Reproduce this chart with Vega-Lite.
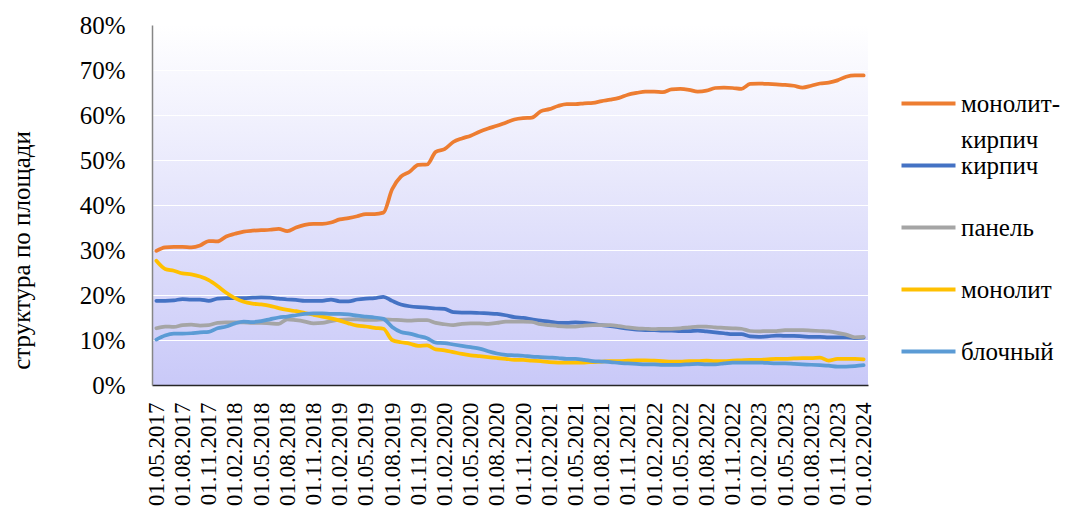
{
"$schema":"https://vega.github.io/schema/vega-lite/v6.json",
"width":716,"height":360,
"autosize":{"type":"none"},
"padding":{"left":152,"top":25,"right":205,"bottom":135},
"background":"white",
"config":{
 "font":"Tinos, Liberation Serif, DejaVu Serif, Noto Serif, serif",
 "view":{"stroke":null,"fill":{"gradient":"linear","x1":0,"y1":0,"x2":0,"y2":1,"stops":[{"offset":0,"color":"#ffffff"},{"offset":1,"color":"#c9c9f8"}]}}
},
"data":{"values":[
{"d":"01.05.2017","s":"монолит-кирпич","v":29.8},{"d":"01.06.2017","s":"монолит-кирпич","v":30.6},{"d":"01.07.2017","s":"монолит-кирпич","v":30.7},{"d":"01.08.2017","s":"монолит-кирпич","v":30.7},{"d":"01.09.2017","s":"монолит-кирпич","v":30.6},{"d":"01.10.2017","s":"монолит-кирпич","v":31.0},{"d":"01.11.2017","s":"монолит-кирпич","v":32.0},{"d":"01.12.2017","s":"монолит-кирпич","v":31.9},
{"d":"01.01.2018","s":"монолит-кирпич","v":33.0},{"d":"01.02.2018","s":"монолит-кирпич","v":33.6},{"d":"01.03.2018","s":"монолит-кирпич","v":34.1},{"d":"01.04.2018","s":"монолит-кирпич","v":34.3},{"d":"01.05.2018","s":"монолит-кирпич","v":34.4},{"d":"01.06.2018","s":"монолит-кирпич","v":34.5},{"d":"01.07.2018","s":"монолит-кирпич","v":34.7},{"d":"01.08.2018","s":"монолит-кирпич","v":34.2},{"d":"01.09.2018","s":"монолит-кирпич","v":35.0},{"d":"01.10.2018","s":"монолит-кирпич","v":35.6},{"d":"01.11.2018","s":"монолит-кирпич","v":35.8},{"d":"01.12.2018","s":"монолит-кирпич","v":35.8},
{"d":"01.01.2019","s":"монолит-кирпич","v":36.1},{"d":"01.02.2019","s":"монолит-кирпич","v":36.8},{"d":"01.03.2019","s":"монолит-кирпич","v":37.1},{"d":"01.04.2019","s":"монолит-кирпич","v":37.5},{"d":"01.05.2019","s":"монолит-кирпич","v":38.0},{"d":"01.06.2019","s":"монолит-кирпич","v":38.0},{"d":"01.07.2019","s":"монолит-кирпич","v":38.3},{"d":"01.08.2019","s":"монолит-кирпич","v":43.5},{"d":"01.09.2019","s":"монолит-кирпич","v":46.3},{"d":"01.10.2019","s":"монолит-кирпич","v":47.4},{"d":"01.11.2019","s":"монолит-кирпич","v":48.9},{"d":"01.12.2019","s":"монолит-кирпич","v":49.0},
{"d":"01.01.2020","s":"монолит-кирпич","v":51.8},{"d":"01.02.2020","s":"монолит-кирпич","v":52.4},{"d":"01.03.2020","s":"монолит-кирпич","v":54.0},{"d":"01.04.2020","s":"монолит-кирпич","v":54.8},{"d":"01.05.2020","s":"монолит-кирпич","v":55.4},{"d":"01.06.2020","s":"монолит-кирпич","v":56.3},{"d":"01.07.2020","s":"монолит-кирпич","v":57.0},{"d":"01.08.2020","s":"монолит-кирпич","v":57.6},{"d":"01.09.2020","s":"монолит-кирпич","v":58.3},{"d":"01.10.2020","s":"монолит-кирпич","v":59.0},{"d":"01.11.2020","s":"монолит-кирпич","v":59.3},{"d":"01.12.2020","s":"монолит-кирпич","v":59.4},
{"d":"01.01.2021","s":"монолит-кирпич","v":60.8},{"d":"01.02.2021","s":"монолит-кирпич","v":61.3},{"d":"01.03.2021","s":"монолит-кирпич","v":62.0},{"d":"01.04.2021","s":"монолит-кирпич","v":62.4},{"d":"01.05.2021","s":"монолит-кирпич","v":62.4},{"d":"01.06.2021","s":"монолит-кирпич","v":62.6},{"d":"01.07.2021","s":"монолит-кирпич","v":62.7},{"d":"01.08.2021","s":"монолит-кирпич","v":63.1},{"d":"01.09.2021","s":"монолит-кирпич","v":63.4},{"d":"01.10.2021","s":"монолит-кирпич","v":63.8},{"d":"01.11.2021","s":"монолит-кирпич","v":64.5},{"d":"01.12.2021","s":"монолит-кирпич","v":64.9},
{"d":"01.01.2022","s":"монолит-кирпич","v":65.2},{"d":"01.02.2022","s":"монолит-кирпич","v":65.2},{"d":"01.03.2022","s":"монолит-кирпич","v":65.1},{"d":"01.04.2022","s":"монолит-кирпич","v":65.7},{"d":"01.05.2022","s":"монолит-кирпич","v":65.8},{"d":"01.06.2022","s":"монолит-кирпич","v":65.6},{"d":"01.07.2022","s":"монолит-кирпич","v":65.2},{"d":"01.08.2022","s":"монолит-кирпич","v":65.4},{"d":"01.09.2022","s":"монолит-кирпич","v":66.0},{"d":"01.10.2022","s":"монолит-кирпич","v":66.1},{"d":"01.11.2022","s":"монолит-кирпич","v":66.0},{"d":"01.12.2022","s":"монолит-кирпич","v":65.8},
{"d":"01.01.2023","s":"монолит-кирпич","v":66.9},{"d":"01.02.2023","s":"монолит-кирпич","v":67.0},{"d":"01.03.2023","s":"монолит-кирпич","v":66.9},{"d":"01.04.2023","s":"монолит-кирпич","v":66.8},{"d":"01.05.2023","s":"монолит-кирпич","v":66.7},{"d":"01.06.2023","s":"монолит-кирпич","v":66.5},{"d":"01.07.2023","s":"монолит-кирпич","v":66.1},{"d":"01.08.2023","s":"монолит-кирпич","v":66.5},{"d":"01.09.2023","s":"монолит-кирпич","v":67.0},{"d":"01.10.2023","s":"монолит-кирпич","v":67.2},{"d":"01.11.2023","s":"монолит-кирпич","v":67.7},{"d":"01.12.2023","s":"монолит-кирпич","v":68.5},
{"d":"01.01.2024","s":"монолит-кирпич","v":68.8},{"d":"01.02.2024","s":"монолит-кирпич","v":68.8},

{"d":"01.05.2017","s":"кирпич","v":18.7},{"d":"01.06.2017","s":"кирпич","v":18.7},{"d":"01.07.2017","s":"кирпич","v":18.8},{"d":"01.08.2017","s":"кирпич","v":19.1},{"d":"01.09.2017","s":"кирпич","v":19.0},{"d":"01.10.2017","s":"кирпич","v":19.0},{"d":"01.11.2017","s":"кирпич","v":18.7},{"d":"01.12.2017","s":"кирпич","v":19.2},
{"d":"01.01.2018","s":"кирпич","v":19.3},{"d":"01.02.2018","s":"кирпич","v":19.3},{"d":"01.03.2018","s":"кирпич","v":19.3},{"d":"01.04.2018","s":"кирпич","v":19.4},{"d":"01.05.2018","s":"кирпич","v":19.5},{"d":"01.06.2018","s":"кирпич","v":19.4},{"d":"01.07.2018","s":"кирпич","v":19.2},{"d":"01.08.2018","s":"кирпич","v":19.0},{"d":"01.09.2018","s":"кирпич","v":18.9},{"d":"01.10.2018","s":"кирпич","v":18.7},{"d":"01.11.2018","s":"кирпич","v":18.7},{"d":"01.12.2018","s":"кирпич","v":18.7},
{"d":"01.01.2019","s":"кирпич","v":19.0},{"d":"01.02.2019","s":"кирпич","v":18.6},{"d":"01.03.2019","s":"кирпич","v":18.6},{"d":"01.04.2019","s":"кирпич","v":19.0},{"d":"01.05.2019","s":"кирпич","v":19.2},{"d":"01.06.2019","s":"кирпич","v":19.3},{"d":"01.07.2019","s":"кирпич","v":19.6},{"d":"01.08.2019","s":"кирпич","v":18.7},{"d":"01.09.2019","s":"кирпич","v":17.9},{"d":"01.10.2019","s":"кирпич","v":17.5},{"d":"01.11.2019","s":"кирпич","v":17.3},{"d":"01.12.2019","s":"кирпич","v":17.2},
{"d":"01.01.2020","s":"кирпич","v":17.0},{"d":"01.02.2020","s":"кирпич","v":16.9},{"d":"01.03.2020","s":"кирпич","v":16.2},{"d":"01.04.2020","s":"кирпич","v":16.1},{"d":"01.05.2020","s":"кирпич","v":16.1},{"d":"01.06.2020","s":"кирпич","v":16.0},{"d":"01.07.2020","s":"кирпич","v":15.9},{"d":"01.08.2020","s":"кирпич","v":15.8},{"d":"01.09.2020","s":"кирпич","v":15.5},{"d":"01.10.2020","s":"кирпич","v":15.1},{"d":"01.11.2020","s":"кирпич","v":14.9},{"d":"01.12.2020","s":"кирпич","v":14.6},
{"d":"01.01.2021","s":"кирпич","v":14.3},{"d":"01.02.2021","s":"кирпич","v":14.1},{"d":"01.03.2021","s":"кирпич","v":13.8},{"d":"01.04.2021","s":"кирпич","v":13.8},{"d":"01.05.2021","s":"кирпич","v":13.9},{"d":"01.06.2021","s":"кирпич","v":13.8},{"d":"01.07.2021","s":"кирпич","v":13.6},{"d":"01.08.2021","s":"кирпич","v":13.3},{"d":"01.09.2021","s":"кирпич","v":13.1},{"d":"01.10.2021","s":"кирпич","v":12.8},{"d":"01.11.2021","s":"кирпич","v":12.5},{"d":"01.12.2021","s":"кирпич","v":12.3},
{"d":"01.01.2022","s":"кирпич","v":12.2},{"d":"01.02.2022","s":"кирпич","v":12.2},{"d":"01.03.2022","s":"кирпич","v":12.1},{"d":"01.04.2022","s":"кирпич","v":12.1},{"d":"01.05.2022","s":"кирпич","v":12.0},{"d":"01.06.2022","s":"кирпич","v":12.0},{"d":"01.07.2022","s":"кирпич","v":12.1},{"d":"01.08.2022","s":"кирпич","v":11.9},{"d":"01.09.2022","s":"кирпич","v":11.7},{"d":"01.10.2022","s":"кирпич","v":11.5},{"d":"01.11.2022","s":"кирпич","v":11.3},{"d":"01.12.2022","s":"кирпич","v":11.3},
{"d":"01.01.2023","s":"кирпич","v":10.8},{"d":"01.02.2023","s":"кирпич","v":10.7},{"d":"01.03.2023","s":"кирпич","v":10.8},{"d":"01.04.2023","s":"кирпич","v":11.0},{"d":"01.05.2023","s":"кирпич","v":10.9},{"d":"01.06.2023","s":"кирпич","v":10.9},{"d":"01.07.2023","s":"кирпич","v":10.8},{"d":"01.08.2023","s":"кирпич","v":10.7},{"d":"01.09.2023","s":"кирпич","v":10.7},{"d":"01.10.2023","s":"кирпич","v":10.6},{"d":"01.11.2023","s":"кирпич","v":10.6},{"d":"01.12.2023","s":"кирпич","v":10.6},
{"d":"01.01.2024","s":"кирпич","v":10.4},{"d":"01.02.2024","s":"кирпич","v":10.5},

{"d":"01.05.2017","s":"панель","v":12.6},{"d":"01.06.2017","s":"панель","v":13.0},{"d":"01.07.2017","s":"панель","v":12.9},{"d":"01.08.2017","s":"панель","v":13.3},{"d":"01.09.2017","s":"панель","v":13.4},{"d":"01.10.2017","s":"панель","v":13.2},{"d":"01.11.2017","s":"панель","v":13.3},{"d":"01.12.2017","s":"панель","v":13.8},
{"d":"01.01.2018","s":"панель","v":13.9},{"d":"01.02.2018","s":"панель","v":13.9},{"d":"01.03.2018","s":"панель","v":13.9},{"d":"01.04.2018","s":"панель","v":13.8},{"d":"01.05.2018","s":"панель","v":13.8},{"d":"01.06.2018","s":"панель","v":13.7},{"d":"01.07.2018","s":"панель","v":13.6},{"d":"01.08.2018","s":"панель","v":14.6},{"d":"01.09.2018","s":"панель","v":14.4},{"d":"01.10.2018","s":"панель","v":14.1},{"d":"01.11.2018","s":"панель","v":13.7},{"d":"01.12.2018","s":"панель","v":13.8},
{"d":"01.01.2019","s":"панель","v":14.2},{"d":"01.02.2019","s":"панель","v":14.5},{"d":"01.03.2019","s":"панель","v":14.6},{"d":"01.04.2019","s":"панель","v":14.6},{"d":"01.05.2019","s":"панель","v":14.5},{"d":"01.06.2019","s":"панель","v":14.5},{"d":"01.07.2019","s":"панель","v":14.6},{"d":"01.08.2019","s":"панель","v":14.5},{"d":"01.09.2019","s":"панель","v":14.4},{"d":"01.10.2019","s":"панель","v":14.3},{"d":"01.11.2019","s":"панель","v":14.4},{"d":"01.12.2019","s":"панель","v":14.4},
{"d":"01.01.2020","s":"панель","v":13.8},{"d":"01.02.2020","s":"панель","v":13.5},{"d":"01.03.2020","s":"панель","v":13.3},{"d":"01.04.2020","s":"панель","v":13.6},{"d":"01.05.2020","s":"панель","v":13.7},{"d":"01.06.2020","s":"панель","v":13.7},{"d":"01.07.2020","s":"панель","v":13.6},{"d":"01.08.2020","s":"панель","v":13.8},{"d":"01.09.2020","s":"панель","v":14.1},{"d":"01.10.2020","s":"панель","v":14.1},{"d":"01.11.2020","s":"панель","v":14.1},{"d":"01.12.2020","s":"панель","v":14.0},
{"d":"01.01.2021","s":"панель","v":13.5},{"d":"01.02.2021","s":"панель","v":13.3},{"d":"01.03.2021","s":"панель","v":13.1},{"d":"01.04.2021","s":"панель","v":13.0},{"d":"01.05.2021","s":"панель","v":13.0},{"d":"01.06.2021","s":"панель","v":13.2},{"d":"01.07.2021","s":"панель","v":13.3},{"d":"01.08.2021","s":"панель","v":13.3},{"d":"01.09.2021","s":"панель","v":13.3},{"d":"01.10.2021","s":"панель","v":13.1},{"d":"01.11.2021","s":"панель","v":12.8},{"d":"01.12.2021","s":"панель","v":12.6},
{"d":"01.01.2022","s":"панель","v":12.5},{"d":"01.02.2022","s":"панель","v":12.4},{"d":"01.03.2022","s":"панель","v":12.5},{"d":"01.04.2022","s":"панель","v":12.5},{"d":"01.05.2022","s":"панель","v":12.6},{"d":"01.06.2022","s":"панель","v":12.8},{"d":"01.07.2022","s":"панель","v":13.0},{"d":"01.08.2022","s":"панель","v":13.0},{"d":"01.09.2022","s":"панель","v":12.8},{"d":"01.10.2022","s":"панель","v":12.7},{"d":"01.11.2022","s":"панель","v":12.6},{"d":"01.12.2022","s":"панель","v":12.5},
{"d":"01.01.2023","s":"панель","v":12.0},{"d":"01.02.2023","s":"панель","v":11.9},{"d":"01.03.2023","s":"панель","v":12.0},{"d":"01.04.2023","s":"панель","v":12.0},{"d":"01.05.2023","s":"панель","v":12.2},{"d":"01.06.2023","s":"панель","v":12.2},{"d":"01.07.2023","s":"панель","v":12.2},{"d":"01.08.2023","s":"панель","v":12.1},{"d":"01.09.2023","s":"панель","v":12.0},{"d":"01.10.2023","s":"панель","v":11.9},{"d":"01.11.2023","s":"панель","v":11.6},{"d":"01.12.2023","s":"панель","v":11.2},
{"d":"01.01.2024","s":"панель","v":10.6},{"d":"01.02.2024","s":"панель","v":10.7},

{"d":"01.05.2017","s":"монолит","v":27.6},{"d":"01.06.2017","s":"монолит","v":25.8},{"d":"01.07.2017","s":"монолит","v":25.4},{"d":"01.08.2017","s":"монолит","v":24.8},{"d":"01.09.2017","s":"монолит","v":24.6},{"d":"01.10.2017","s":"монолит","v":24.1},{"d":"01.11.2017","s":"монолит","v":23.3},{"d":"01.12.2017","s":"монолит","v":22.0},
{"d":"01.01.2018","s":"монолит","v":20.5},{"d":"01.02.2018","s":"монолит","v":19.3},{"d":"01.03.2018","s":"монолит","v":18.5},{"d":"01.04.2018","s":"монолит","v":18.1},{"d":"01.05.2018","s":"монолит","v":17.9},{"d":"01.06.2018","s":"монолит","v":17.6},{"d":"01.07.2018","s":"монолит","v":17.1},{"d":"01.08.2018","s":"монолит","v":16.7},{"d":"01.09.2018","s":"монолит","v":16.4},{"d":"01.10.2018","s":"монолит","v":16.0},{"d":"01.11.2018","s":"монолит","v":15.6},{"d":"01.12.2018","s":"монолит","v":15.2},
{"d":"01.01.2019","s":"монолит","v":14.8},{"d":"01.02.2019","s":"монолит","v":14.3},{"d":"01.03.2019","s":"монолит","v":13.7},{"d":"01.04.2019","s":"монолит","v":13.2},{"d":"01.05.2019","s":"монолит","v":13.0},{"d":"01.06.2019","s":"монолит","v":12.7},{"d":"01.07.2019","s":"монолит","v":12.5},{"d":"01.08.2019","s":"монолит","v":10.0},{"d":"01.09.2019","s":"монолит","v":9.5},{"d":"01.10.2019","s":"монолит","v":9.2},{"d":"01.11.2019","s":"монолит","v":8.7},{"d":"01.12.2019","s":"монолит","v":8.8},
{"d":"01.01.2020","s":"монолит","v":7.9},{"d":"01.02.2020","s":"монолит","v":7.7},{"d":"01.03.2020","s":"монолит","v":7.3},{"d":"01.04.2020","s":"монолит","v":6.9},{"d":"01.05.2020","s":"монолит","v":6.6},{"d":"01.06.2020","s":"монолит","v":6.4},{"d":"01.07.2020","s":"монолит","v":6.2},{"d":"01.08.2020","s":"монолит","v":6.0},{"d":"01.09.2020","s":"монолит","v":5.8},{"d":"01.10.2020","s":"монолит","v":5.6},{"d":"01.11.2020","s":"монолит","v":5.6},{"d":"01.12.2020","s":"монолит","v":5.4},
{"d":"01.01.2021","s":"монолит","v":5.3},{"d":"01.02.2021","s":"монолит","v":5.1},{"d":"01.03.2021","s":"монолит","v":5.0},{"d":"01.04.2021","s":"монолит","v":5.0},{"d":"01.05.2021","s":"монолит","v":5.0},{"d":"01.06.2021","s":"монолит","v":5.0},{"d":"01.07.2021","s":"монолит","v":5.1},{"d":"01.08.2021","s":"монолит","v":5.2},{"d":"01.09.2021","s":"монолит","v":5.3},{"d":"01.10.2021","s":"монолит","v":5.3},{"d":"01.11.2021","s":"монолит","v":5.4},{"d":"01.12.2021","s":"монолит","v":5.5},
{"d":"01.01.2022","s":"монолит","v":5.5},{"d":"01.02.2022","s":"монолит","v":5.4},{"d":"01.03.2022","s":"монолит","v":5.3},{"d":"01.04.2022","s":"монолит","v":5.2},{"d":"01.05.2022","s":"монолит","v":5.2},{"d":"01.06.2022","s":"монолит","v":5.3},{"d":"01.07.2022","s":"монолит","v":5.3},{"d":"01.08.2022","s":"монолит","v":5.4},{"d":"01.09.2022","s":"монолит","v":5.3},{"d":"01.10.2022","s":"монолит","v":5.3},{"d":"01.11.2022","s":"монолит","v":5.4},{"d":"01.12.2022","s":"монолит","v":5.5},
{"d":"01.01.2023","s":"монолит","v":5.6},{"d":"01.02.2023","s":"монолит","v":5.6},{"d":"01.03.2023","s":"монолит","v":5.7},{"d":"01.04.2023","s":"монолит","v":5.8},{"d":"01.05.2023","s":"монолит","v":5.8},{"d":"01.06.2023","s":"монолит","v":5.9},{"d":"01.07.2023","s":"монолит","v":6.0},{"d":"01.08.2023","s":"монолит","v":6.0},{"d":"01.09.2023","s":"монолит","v":6.1},{"d":"01.10.2023","s":"монолит","v":5.4},{"d":"01.11.2023","s":"монолит","v":5.8},{"d":"01.12.2023","s":"монолит","v":5.8},
{"d":"01.01.2024","s":"монолит","v":5.8},{"d":"01.02.2024","s":"монолит","v":5.7},

{"d":"01.05.2017","s":"блочный","v":10.1},{"d":"01.06.2017","s":"блочный","v":11.0},{"d":"01.07.2017","s":"блочный","v":11.4},{"d":"01.08.2017","s":"блочный","v":11.4},{"d":"01.09.2017","s":"блочный","v":11.5},{"d":"01.10.2017","s":"блочный","v":11.7},{"d":"01.11.2017","s":"блочный","v":11.8},{"d":"01.12.2017","s":"блочный","v":12.6},
{"d":"01.01.2018","s":"блочный","v":13.0},{"d":"01.02.2018","s":"блочный","v":13.7},{"d":"01.03.2018","s":"блочный","v":14.1},{"d":"01.04.2018","s":"блочный","v":14.0},{"d":"01.05.2018","s":"блочный","v":14.2},{"d":"01.06.2018","s":"блочный","v":14.6},{"d":"01.07.2018","s":"блочный","v":15.0},{"d":"01.08.2018","s":"блочный","v":15.2},{"d":"01.09.2018","s":"блочный","v":15.5},{"d":"01.10.2018","s":"блочный","v":15.8},{"d":"01.11.2018","s":"блочный","v":15.9},{"d":"01.12.2018","s":"блочный","v":15.9},
{"d":"01.01.2019","s":"блочный","v":15.8},{"d":"01.02.2019","s":"блочный","v":15.8},{"d":"01.03.2019","s":"блочный","v":15.7},{"d":"01.04.2019","s":"блочный","v":15.4},{"d":"01.05.2019","s":"блочный","v":15.2},{"d":"01.06.2019","s":"блочный","v":15.0},{"d":"01.07.2019","s":"блочный","v":14.7},{"d":"01.08.2019","s":"блочный","v":12.9},{"d":"01.09.2019","s":"блочный","v":11.8},{"d":"01.10.2019","s":"блочный","v":11.4},{"d":"01.11.2019","s":"блочный","v":10.9},{"d":"01.12.2019","s":"блочный","v":10.4},
{"d":"01.01.2020","s":"блочный","v":9.4},{"d":"01.02.2020","s":"блочный","v":9.3},{"d":"01.03.2020","s":"блочный","v":9.0},{"d":"01.04.2020","s":"блочный","v":8.7},{"d":"01.05.2020","s":"блочный","v":8.4},{"d":"01.06.2020","s":"блочный","v":8.1},{"d":"01.07.2020","s":"блочный","v":7.5},{"d":"01.08.2020","s":"блочный","v":7.0},{"d":"01.09.2020","s":"блочный","v":6.7},{"d":"01.10.2020","s":"блочный","v":6.6},{"d":"01.11.2020","s":"блочный","v":6.5},{"d":"01.12.2020","s":"блочный","v":6.3},
{"d":"01.01.2021","s":"блочный","v":6.2},{"d":"01.02.2021","s":"блочный","v":6.1},{"d":"01.03.2021","s":"блочный","v":6.0},{"d":"01.04.2021","s":"блочный","v":5.8},{"d":"01.05.2021","s":"блочный","v":5.8},{"d":"01.06.2021","s":"блочный","v":5.6},{"d":"01.07.2021","s":"блочный","v":5.3},{"d":"01.08.2021","s":"блочный","v":5.2},{"d":"01.09.2021","s":"блочный","v":5.1},{"d":"01.10.2021","s":"блочный","v":4.9},{"d":"01.11.2021","s":"блочный","v":4.8},{"d":"01.12.2021","s":"блочный","v":4.7},
{"d":"01.01.2022","s":"блочный","v":4.6},{"d":"01.02.2022","s":"блочный","v":4.6},{"d":"01.03.2022","s":"блочный","v":4.5},{"d":"01.04.2022","s":"блочный","v":4.5},{"d":"01.05.2022","s":"блочный","v":4.5},{"d":"01.06.2022","s":"блочный","v":4.6},{"d":"01.07.2022","s":"блочный","v":4.7},{"d":"01.08.2022","s":"блочный","v":4.6},{"d":"01.09.2022","s":"блочный","v":4.6},{"d":"01.10.2022","s":"блочный","v":4.8},{"d":"01.11.2022","s":"блочный","v":5.0},{"d":"01.12.2022","s":"блочный","v":5.0},
{"d":"01.01.2023","s":"блочный","v":5.0},{"d":"01.02.2023","s":"блочный","v":5.0},{"d":"01.03.2023","s":"блочный","v":4.9},{"d":"01.04.2023","s":"блочный","v":4.8},{"d":"01.05.2023","s":"блочный","v":4.8},{"d":"01.06.2023","s":"блочный","v":4.7},{"d":"01.07.2023","s":"блочный","v":4.6},{"d":"01.08.2023","s":"блочный","v":4.5},{"d":"01.09.2023","s":"блочный","v":4.4},{"d":"01.10.2023","s":"блочный","v":4.3},{"d":"01.11.2023","s":"блочный","v":4.1},{"d":"01.12.2023","s":"блочный","v":4.1},
{"d":"01.01.2024","s":"блочный","v":4.2},{"d":"01.02.2024","s":"блочный","v":4.4}
]},
"mark":{"type":"line","strokeWidth":3.75,"interpolate":"monotone","strokeCap":"round","strokeJoin":"round"},
"encoding":{
 "x":{"field":"d","type":"ordinal","sort":null,"scale":{"type":"point","padding":0.5},
  "axis":{"title":null,"values":["01.05.2017","01.08.2017","01.11.2017","01.02.2018","01.05.2018","01.08.2018","01.11.2018","01.02.2019","01.05.2019","01.08.2019","01.11.2019","01.02.2020","01.05.2020","01.08.2020","01.11.2020","01.02.2021","01.05.2021","01.08.2021","01.11.2021","01.02.2022","01.05.2022","01.08.2022","01.11.2022","01.02.2023","01.05.2023","01.08.2023","01.11.2023","01.02.2024"],
   "labelAngle":-90,"labelAlign":"right","labelBaseline":"middle","labelFont":"Tinos, Liberation Serif, DejaVu Serif, Noto Serif, serif","labelFontSize":23,"labelColor":"#000000","labelPadding":17,"ticks":false,"tickSize":0,"domainColor":"#262626","domainWidth":1.5,"grid":false,"labelOverlap":false,"labelBound":false,"labelFlush":false}},
 "y":{"field":"v","type":"quantitative","scale":{"domain":[0,80],"nice":false},
  "axis":{"title":"структура по площади","values":[0,10,20,30,40,50,60,70,80],"labelExpr":"datum.value + '%'","labelFont":"Tinos, Liberation Serif, DejaVu Serif, Noto Serif, serif","labelFontSize":25,"labelColor":"#000000","labelPadding":27,"ticks":false,"tickSize":0,"domainColor":"#868686","domainWidth":1.5,"grid":true,"gridColor":"#ffffff","gridWidth":1.2,"labelFlush":false,"labelBound":false,"labelOverlap":false,
   "titleFont":"Tinos, Liberation Serif, DejaVu Serif, Noto Serif, serif","titleFontSize":25,"titleFontWeight":"normal","titleColor":"#000000","titleAngle":-90,"titleAlign":"center","titleBaseline":"middle","titleX":-131,"titleY":225}},
 "color":{"field":"s","type":"nominal",
  "scale":{"domain":["монолит-кирпич","кирпич","панель","монолит","блочный"],"range":["#ED7D31","#4472C4","#A5A5A5","#FFC000","#5B9BD5"]},
  "legend":{"title":null,"orient":"none","legendX":764,"legendY":66,"padding":0,"symbolType":"M-5.4,0H5.4","symbolSize":100,"symbolStrokeWidth":4,"labelFont":"Tinos, Liberation Serif, DejaVu Serif, Noto Serif, serif","labelFontSize":25,"labelColor":"#000000","labelOffset":20,"labelLimit":0,"gridAlign":"all","rowPadding":0,
   "labelExpr":"datum.label == 'монолит-кирпич' ? ['монолит-', 'кирпич'] : datum.label",
   "encode":{"labels":{"update":{"lineHeight":{"value":36}}}}}}
}
}
